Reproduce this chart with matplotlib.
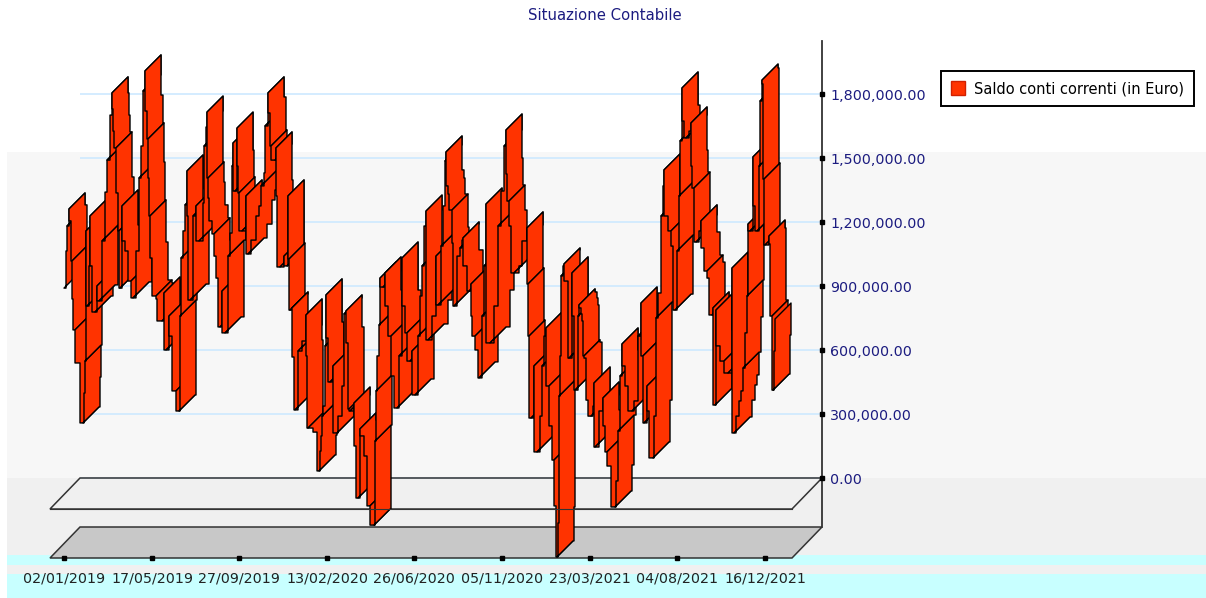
import numpy as np
import matplotlib
matplotlib.use('Agg')
import matplotlib.pyplot as plt
from matplotlib.collections import PolyCollection
from matplotlib.patches import Rectangle, Polygon, Patch

# Input
giorno = [0, 2, 3, 5, 7, 8, 9, 11, 16, 19, 20, 21, 22, 23, 25, 26, 28, 31, 33, 35, 38, 41, 43, 46, 48, 49,
          50, 52, 54, 55, 56, 58, 61, 64, 67, 69, 72, 75, 77, 79, 81, 83, 84, 85, 86, 88, 92, 93, 98, 100,
          102, 105, 108, 112, 115, 116, 117, 119, 121, 123, 124, 126, 129, 132, 135, 139, 140, 142, 143,
          144, 145, 148, 150, 152, 154, 156, 158, 161, 164, 166, 168, 169, 171, 173, 174, 175, 178, 182,
          184, 187, 192, 195, 197, 200, 201, 204, 206, 207, 211, 212, 213, 216, 220, 223, 224, 225, 226,
          228, 230, 231, 234, 238, 242, 243, 244, 249, 253, 255, 256, 257, 258, 259, 261, 262, 264, 266,
          269, 273, 274, 278, 280, 282, 284, 285, 286, 290, 292, 294, 296, 300, 303, 306, 310, 311, 312,
          313, 315, 316, 319, 321, 324, 327, 330, 333, 335, 338, 341, 343, 346, 348, 351, 354, 356, 358,
          360, 362, 364, 368, 372, 374, 377, 379, 381, 382, 384, 385, 388, 389, 390, 393, 396, 398, 399,
          403, 405, 407, 408, 411, 414, 415, 418, 420, 422, 426, 430, 434, 437, 440, 442, 443, 445, 447,
          450, 455, 458, 463, 464, 465, 467, 470, 473, 476, 478, 480, 482, 485, 488, 490, 492, 493, 494,
          495, 496, 497, 499, 500, 504, 505, 508, 510, 511, 514, 515, 517, 518, 519, 520, 522, 524, 527,
          529, 530, 531, 535, 539, 541, 543, 547, 551, 552, 554, 556, 558, 561, 564, 568, 570, 574, 577,
          579, 580, 583, 585, 589, 590, 592, 594, 597, 599, 600, 604, 607, 609, 611, 613, 615, 616, 618,
          620, 622, 625, 627, 628, 630, 632, 635, 637, 640, 643, 645, 648, 649, 651, 652, 656, 660, 664,
          668, 670, 672, 675, 677, 679, 681, 683, 684, 686, 689, 691, 693, 695, 696, 698, 699, 700, 701,
          705, 706, 708, 709, 710, 711]
saldo_k = [998, 1172, 1289, 1369, 1313, 1125, 947, 802, 647, 366, 506, 656, 1266, 914, 1102, 1336, 1102, 886,
           1008, 938, 1219, 1448, 1598, 1809, 1913, 1838, 1734, 1655, 1444, 1266, 998, 1383, 1219, 1172, 1031,
           952, 1172, 1514, 1664, 1922, 2016, 1828, 1697, 1514, 1336, 1139, 961, 947, 844, 975, 708, 867, 773,
           516, 422, 867, 1139, 1266, 1388, 1547, 1336, 942, 1336, 1383, 1219, 1397, 1664, 1753, 1823, 1514,
           1420, 1313, 1252, 1148, 1045, 816, 984, 788, 1148, 1256, 1570, 1678, 1453, 1748, 1570, 1444, 1266,
           1430, 1158, 1223, 1336, 1383, 1477, 1538, 1758, 1913, 1819, 1664, 1598, 1655, 1430, 1097, 1148, 1102,
           1430, 1134, 895, 905, 675, 427, 703, 750, 872, 680, 342, 342, 323, 141, 234, 305, 398, 445, 727, 966,
           764, 558, 633, 319, 398, 539, 877, 891, 741, 431, 422, 459, 258, 14, 338, 305, 211, -23, -113, 281,
           516, 680, 825, 1045, 1003, 1069, 914, 773, 586, 436, 680, 1139, 914, 788, 656, 703, 497, 773, 961,
           1102, 1289, 1359, 755, 867, 1148, 919, 1195, 1383, 1594, 1636, 1477, 1439, 1364, 1209, 914, 1148,
           1186, 1223, 1233, 1102, 984, 1017, 867, 773, 708, 577, 867, 1102, 1392, 741, 914, 1289, 1453, 1664,
           1739, 1533, 1406, 1289, 1069, 1102, 1219, 1280, 1017, 773, 389, 633, 230, 398, 633, 773, 811, 539,
           352, 192, -23, -262, -103, 492, 680, 1055, 1102, 1111, 1031, 670, 1069, 867, 520, 867, 919, 905, 877,
           844, 680, 670, 473, 398, 445, 553, 253, 422, 483, 352, 230, 164, -28, 94, 328, 586, 736, 633, 539,
           422, 469, 773, 928, 680, 366, 539, 422, 202, 398, 858, 975, 1336, 1477, 1552, 1336, 1266, 1195, 895,
           1172, 1430, 1688, 1936, 1781, 1702, 1734, 1772, 1570, 1467, 1214, 1266, 1313, 1186, 1078, 1045, 872,
           905, 450, 895, 727, 656, 600, 1092, 319, 398, 469, 516, 623, 788, 961, 1298, 1266, 1613, 1383, 1266,
           1570, 1875, 1973, 1955, 1509, 1200, 1242, 1205, 867, 520, 703, 853]
etichette = ['02/01/2019', '17/05/2019', '27/09/2019', '13/02/2020', '26/06/2020',
             '05/11/2020', '23/03/2021', '04/08/2021', '16/12/2021']
etichette_idx = [0, 88, 175, 263, 350, 438, 526, 613, 701]
valori_asse = [0, 300000, 600000, 900000, 1200000, 1500000, 1800000]

n = min(len(giorno), len(saldo_k))
giorno = np.array(giorno[:n])
saldo = np.array(saldo_k[:n]) * 1000.0

ROSSO = '#ff3300'
BLU = '#1c1c80'
PX_Y = 4687.5   # euro for one pixel

fig = plt.figure(figsize=(12.06, 5.98), dpi=100, facecolor='white')

# background bands, in pixels
bg = fig.add_axes([0, 0, 1, 1])
bg.set_xlim(0, 1206)
bg.set_ylim(598, 0)
bg.axis('off')
bg.add_patch(Rectangle((7, 152), 1199, 326, color='#f7f7f7', lw=0))
bg.add_patch(Rectangle((7, 478), 1199, 120, color='#f0f0f0', lw=0))
bg.add_patch(Rectangle((7, 555), 1199, 10, color='#c8ffff', lw=0))
bg.add_patch(Rectangle((7, 574), 1199, 24, color='#c8ffff', lw=0))

# the back wall of the 3D box
ax = fig.add_axes([80 / 1206, 1 - 527 / 598, 742 / 1206, 486 / 598])
ax.patch.set_visible(False)
x0, x1 = -7, 735
y0, y1 = -49 * PX_Y, 437 * PX_Y
ax.set_xlim(x0, x1)
ax.set_ylim(y0, y1)
for s in ['top', 'left', 'bottom']:
    ax.spines[s].set_visible(False)
ax.spines['right'].set_color('#333333')
ax.spines['right'].set_linewidth(1.3)
ax.yaxis.tick_right()
ax.set_xticks([])
ax.set_yticks(valori_asse)
ax.set_yticklabels(['{:,.2f}'.format(v) for v in valori_asse], color=BLU, fontsize=10.3)
ax.tick_params(axis='y', length=0, pad=6)
ax.grid(axis='y', color='#cde9ff', lw=1.2)
ax.set_axisbelow(True)
ax.plot([x1] * len(valori_asse), valori_asse, 's', color='black', ms=3.2, clip_on=False, zorder=6)

# floor and zero plane, 30 px of depth
ax.add_patch(Polygon([(x0, y0), (x1, y0), (x1 - 30, y0 - 31 * PX_Y), (x0 - 30, y0 - 31 * PX_Y)], closed=True,
                     fc='#c8c8c8', ec='#333333', lw=1.1, clip_on=False, zorder=1))
ax.add_patch(Polygon([(x0, 0), (x1, 0), (x1 - 30, -31 * PX_Y), (x0 - 30, -31 * PX_Y)], closed=True,
                     fc='none', ec='#333333', lw=1.1, clip_on=False, zorder=1))

# ribbon: the line moves in stairs, one piece for each run up or down
# going up it waits and then jumps, going down it jumps and then waits
# a long run is cut now and then, which gives the slanted lines across it
xb = giorno - 7.0
yb = saldo - 7 * PX_Y
DX = 16.0
DY = 16 * PX_Y
TAGLIO = 50 * PX_Y
pezzi = []
dietro = [(xb[0], yb[0])]
for i in range(n - 1):
    sale = yb[i + 1] > yb[i]
    if sale:
        dietro.append((xb[i + 1], yb[i]))
    else:
        dietro.append((xb[i], yb[i + 1]))
    dietro.append((xb[i + 1], yb[i + 1]))
    fine = i == n - 2
    lungo = abs(dietro[-1][1] - dietro[0][1]) > TAGLIO
    if fine or lungo or (yb[i + 2] > yb[i + 1]) != sale:
        davanti = [(p[0] - DX, p[1] - DY) for p in dietro]
        pezzi.append(dietro + davanti[::-1])
        dietro = [(xb[i + 1], yb[i + 1])]
nastro = PolyCollection(pezzi, facecolors=ROSSO, edgecolors='black', linewidths=1.0, clip_on=False, zorder=3)
ax.add_collection(nastro)

# front edge of the zero plane passes over the ribbon
ax.plot([x0 - 30, x1 - 30], [-31 * PX_Y, -31 * PX_Y], color='#333333', lw=0.8, clip_on=False, zorder=4)

# date ticks on the front of the floor
tx = np.array(etichette_idx) - 23.0
ax.plot(tx, [y0 - 31 * PX_Y] * len(tx), 's', color='black', ms=3.2, clip_on=False, zorder=6)
for x, lab in zip(tx, etichette):
    ax.text(x, y0 - 51 * PX_Y, lab, ha='center', va='center', fontsize=10.3, color='#222222', clip_on=False)

fig.text(605 / 1206, 1 - 15 / 598, 'Situazione Contabile', ha='center', va='center', fontsize=10.7, color=BLU)

leg = fig.legend(handles=[Patch(fc=ROSSO, ec='#d02000')], labels=['Saldo conti correnti (in Euro)'],
                 loc='upper left', bbox_to_anchor=(941 / 1206, 1 - 71 / 598), borderaxespad=0, fontsize=10.5,
                 fancybox=False, framealpha=1, edgecolor='black', handlelength=0.95, handleheight=1.1,
                 handletextpad=0.6, borderpad=0.7)
leg.get_frame().set_linewidth(1.4)

fig.savefig('out.png', dpi=100)
